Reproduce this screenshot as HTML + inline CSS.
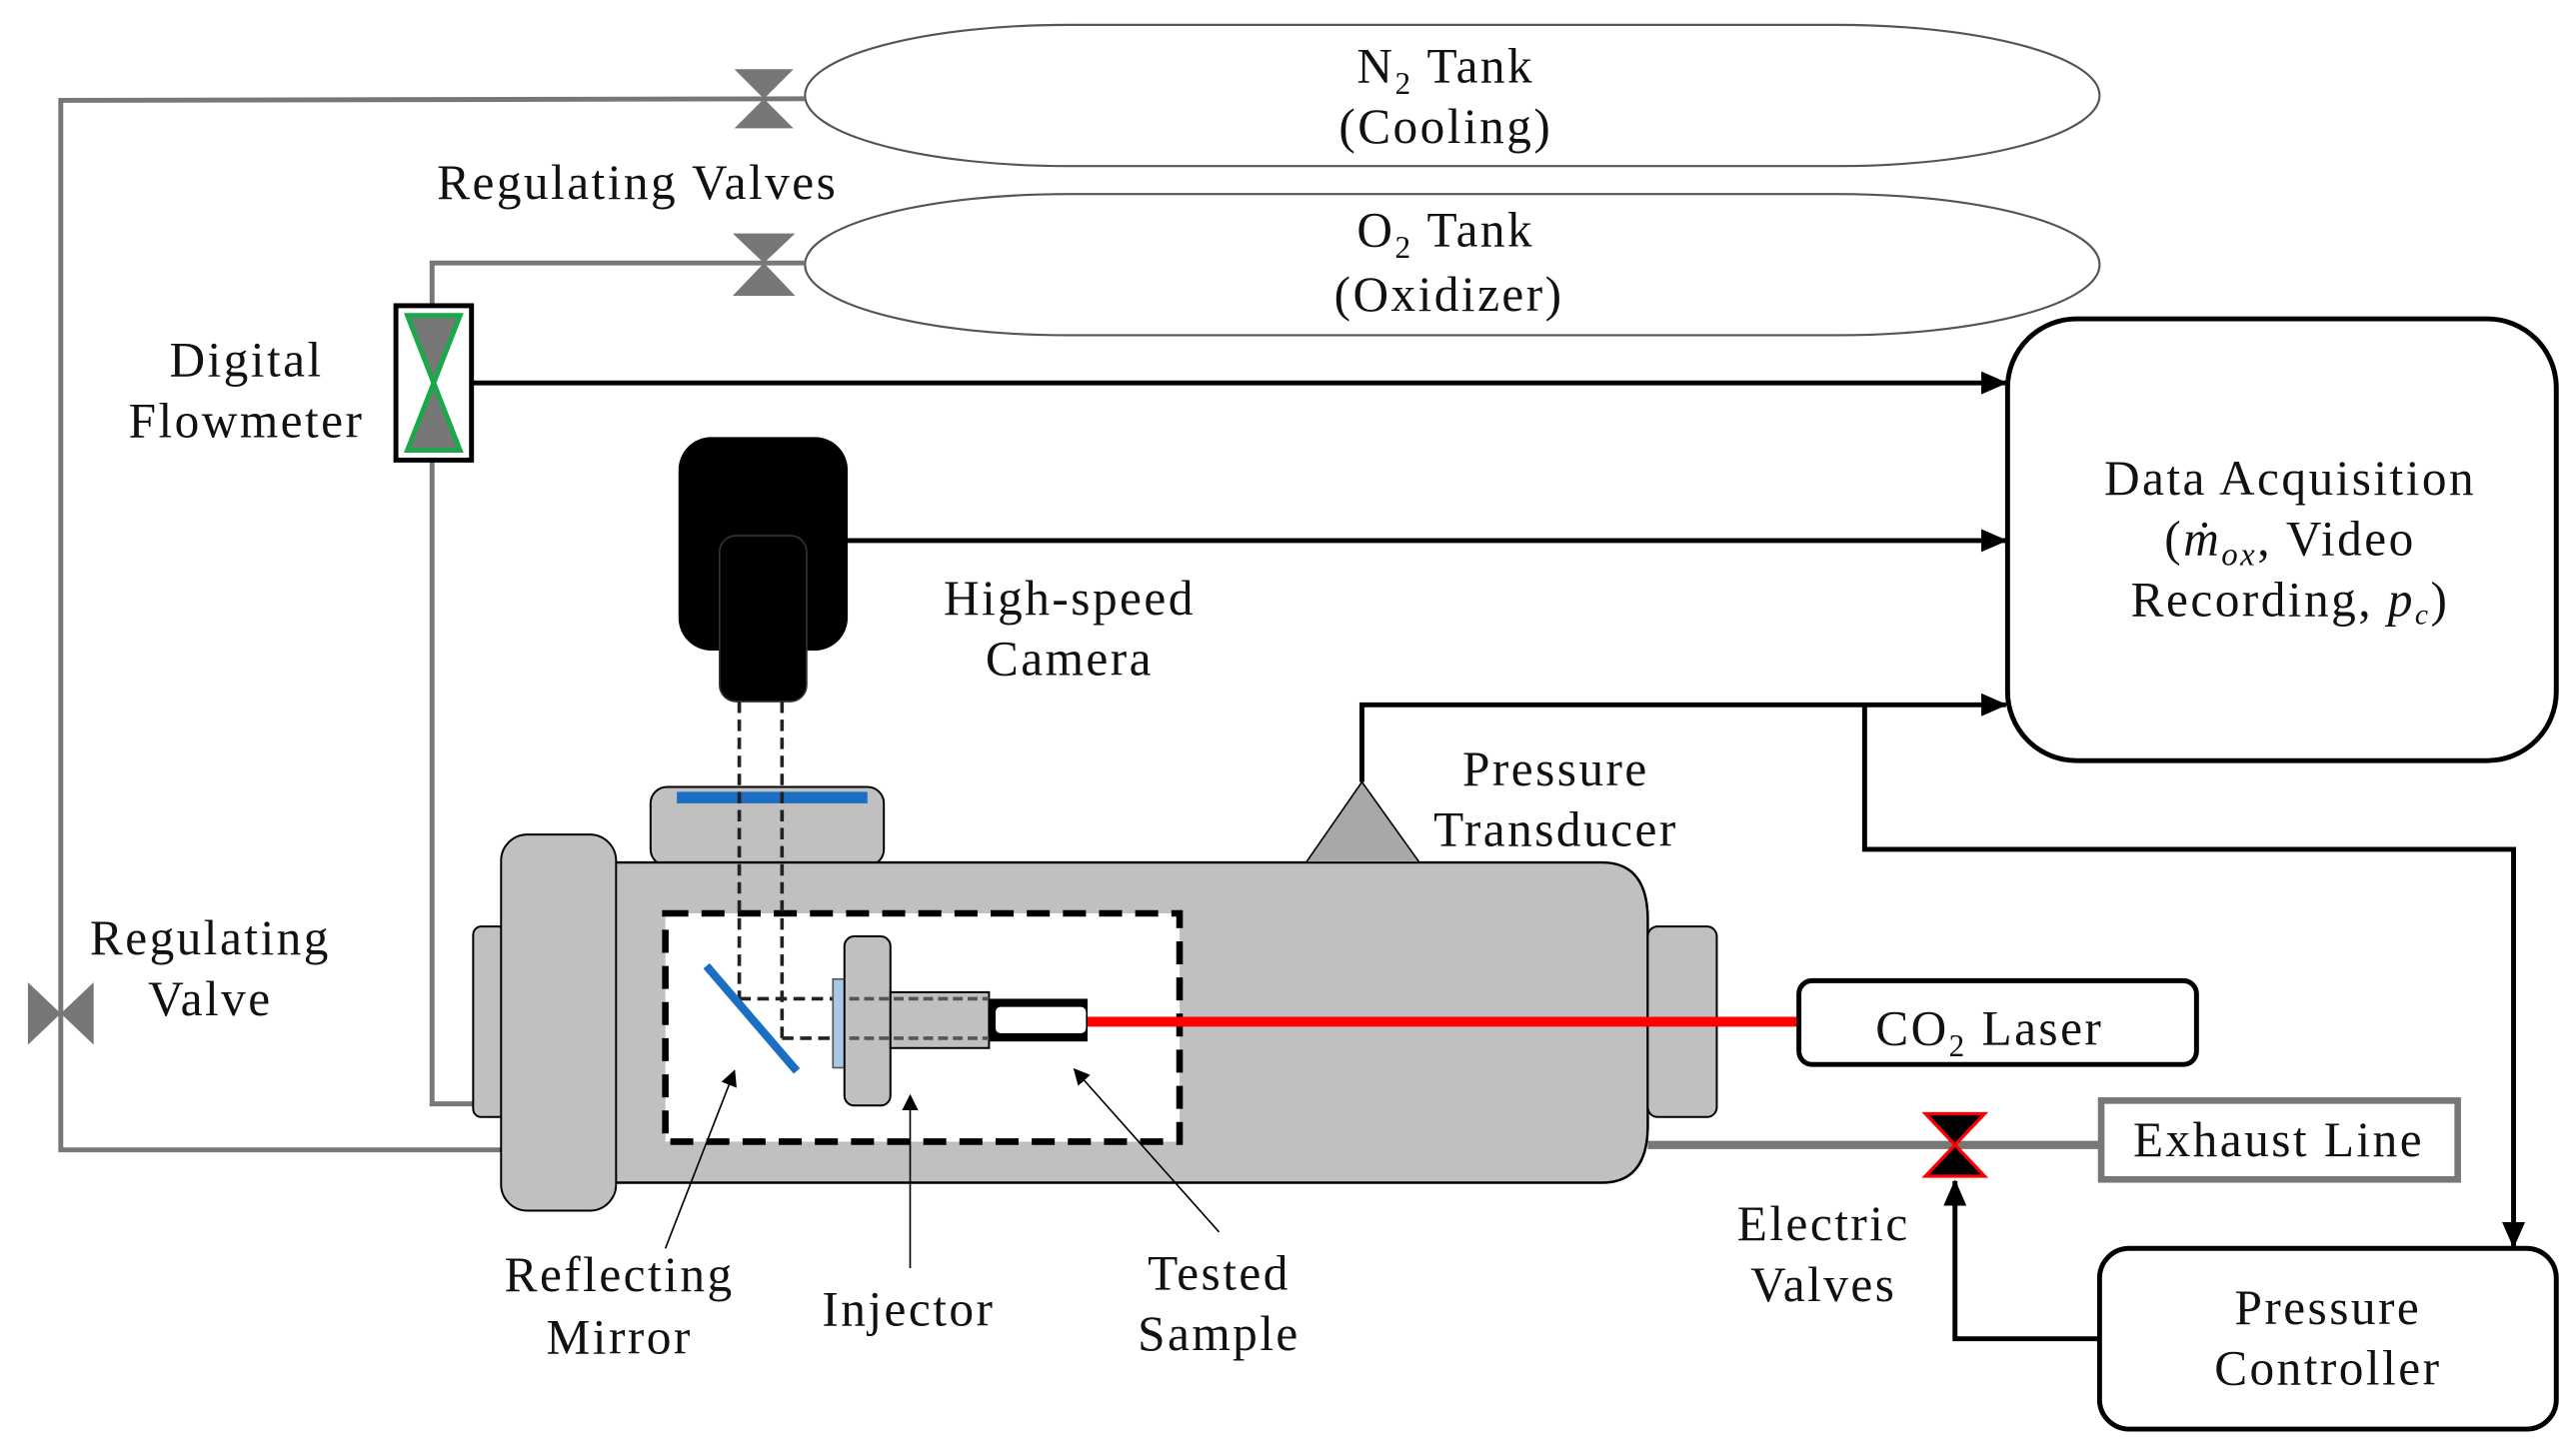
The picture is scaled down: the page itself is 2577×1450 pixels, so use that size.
<!DOCTYPE html>
<html><head><meta charset="utf-8"><style>
html,body{margin:0;padding:0;background:#fff;}
svg{display:block;}
text{font-family:"Liberation Serif",serif;font-size:30px;letter-spacing:1.5px;fill:#111;text-anchor:middle;}
</style></head><body>
<svg width="2577" height="1450" viewBox="0 0 1568 882" xmlns="http://www.w3.org/2000/svg">
<defs>
<marker id="a" markerWidth="10" markerHeight="10" refX="9" refY="5" orient="auto" markerUnits="userSpaceOnUse" viewBox="0 0 10 10"><path d="M0,0 L10,5 L0,10z" fill="#000"/></marker>
<marker id="a2" markerWidth="16" markerHeight="14" refX="15" refY="7" orient="auto" markerUnits="userSpaceOnUse" viewBox="0 0 16 14"><path d="M0,0 L16,7 L0,14z" fill="#000"/></marker>
</defs>
<rect x="490" y="15" width="788" height="86" rx="160" ry="43" fill="none" stroke="#555" stroke-width="1.3"/>
<rect x="490" y="118" width="788" height="86" rx="160" ry="43" fill="none" stroke="#555" stroke-width="1.3"/>
<text x="880" y="50">N<tspan font-size="19" dy="7">2</tspan><tspan dy="-7"> Tank</tspan></text>
<text x="880" y="87">(Cooling)</text>
<text x="880" y="150">O<tspan font-size="19" dy="7">2</tspan><tspan dy="-7"> Tank</tspan></text>
<text x="882" y="189">(Oxidizer)</text>
<text x="388" y="121">Regulating Valves</text>
<g stroke="#777" stroke-width="3" fill="none">
<polyline points="490,60 37,61 37,700 305,700"/>
<polyline points="490,160 263,160 263,186"/>
<polyline points="263,280 263,672 290,672"/>
</g>
<g fill="#777">
<path d="M447,42 L483,42 L465,60 L483,78 L447,78 L465,60z"/>
<path d="M446,142 L484,142 L465,160 L484,180 L446,180 L465,160z"/>
<path d="M17,598 L17,636 L37,617 L57,636 L57,598 L37,617z"/>
</g>
<rect x="241" y="186" width="46" height="94" fill="#fff" stroke="#000" stroke-width="3"/>
<path d="M248,192 L280,192 L264,233 L280,274 L248,274 L264,233z" fill="#777" stroke="#1aa84a" stroke-width="3"/>
<text x="150" y="229">Digital</text>
<text x="150" y="266">Flowmeter</text>
<rect x="1222" y="194" width="334" height="269" rx="42" fill="#fff" stroke="#000" stroke-width="3"/>
<text x="1394" y="301">Data Acquisition</text>
<text x="1394" y="338">(<tspan font-style="italic">ṁ</tspan><tspan font-style="italic" font-size="20" dy="6">ox</tspan><tspan dy="-6">, Video</tspan></text>
<text x="1394" y="375">Recording, <tspan font-style="italic">p</tspan><tspan font-style="italic" font-size="18" dy="5">c</tspan><tspan dy="-5">)</tspan></text>
<g stroke="#000" stroke-width="3" fill="none">
<line x1="287" y1="233" x2="1221" y2="233" marker-end="url(#a2)"/>
<line x1="516" y1="329" x2="1221" y2="329" marker-end="url(#a2)"/>
<polyline points="829,476 829,429 1221,429" marker-end="url(#a2)"/>
<polyline points="1135,429 1135,517 1530,517 1530,759" marker-end="url(#a2)"/>
<polyline points="1278,815 1190,815 1190,719" marker-end="url(#a2)"/>
</g>
<rect x="413" y="266" width="103" height="130" rx="20" fill="#000"/>
<rect x="438" y="326" width="53" height="101" rx="10" fill="#000" stroke="#333" stroke-width="1"/>
<text x="651" y="374">High-speed</text>
<text x="651" y="411">Camera</text>
<rect x="396" y="479" width="142" height="48" rx="10" fill="#c0c0c0" stroke="#000" stroke-width="1.2"/>
<rect x="412" y="482" width="116" height="7" fill="#1b6ec2"/>
<rect x="288" y="564" width="20" height="116" rx="5" fill="#c0c0c0" stroke="#000" stroke-width="1.2"/>
<path d="M330,525 L975,525 Q1003,525 1003,560 L1003,685 Q1003,720 975,720 L330,720z" fill="#c0c0c0" stroke="#000" stroke-width="1.5"/>
<rect x="1003" y="564" width="42" height="116" rx="6" fill="#c0c0c0" stroke="#000" stroke-width="1.2"/>
<rect x="305" y="508" width="70" height="229" rx="16" fill="#c0c0c0" stroke="#000" stroke-width="1.2"/>
<path d="M795,525 L829,476 L864,525z" fill="#a8a8a8" stroke="#000" stroke-width="1"/>
<text x="947" y="478">Pressure</text>
<text x="947" y="515">Transducer</text>
<rect x="405" y="556" width="313" height="139" fill="#fff" stroke="#000" stroke-width="4" stroke-dasharray="14,8"/>
<g stroke="#222" stroke-width="2.2" stroke-dasharray="7,4" fill="none">
<line x1="450" y1="427" x2="450" y2="608"/>
<line x1="476" y1="427" x2="476" y2="632"/>
<line x1="450" y1="608" x2="602" y2="608"/>
<line x1="476" y1="632" x2="602" y2="632"/>
</g>
<rect x="507" y="596" width="9" height="54" fill="#a8c8e8" stroke="#555" stroke-width="1"/>
<rect x="514" y="570" width="28" height="103" rx="6" fill="#c0c0c0" stroke="#000" stroke-width="1.2"/>
<rect x="542" y="604" width="60" height="34" fill="#c0c0c0" stroke="#000" stroke-width="1.2"/>
<rect x="602" y="608" width="60" height="26" fill="#000"/>
<rect x="606" y="613" width="55" height="16" rx="3" fill="#fff"/>
<g stroke="#555" stroke-width="2.2" stroke-dasharray="6,3"><line x1="517" y1="608" x2="602" y2="608"/><line x1="517" y1="632" x2="602" y2="632"/></g>
<line x1="430" y1="588" x2="485" y2="652" stroke="#1b6ec2" stroke-width="5"/>
<line x1="662" y1="622" x2="1095" y2="622" stroke="#f00" stroke-width="6"/>
<rect x="1095" y="597" width="242" height="51" rx="8" fill="#fff" stroke="#000" stroke-width="3"/>
<text x="1211" y="636">CO<tspan font-size="19" dy="7">2</tspan><tspan dy="-7"> Laser</tspan></text>
<line x1="1003" y1="697" x2="1280" y2="697" stroke="#777" stroke-width="5"/>
<rect x="1279" y="670" width="217" height="48" fill="#fff" stroke="#777" stroke-width="4"/>
<text x="1387" y="704">Exhaust Line</text>
<path d="M1172,678 L1208,678 L1190,697 L1208,716 L1172,716 L1190,697z" fill="#000" stroke="#f00" stroke-width="2"/>
<text x="1110" y="755">Electric</text>
<text x="1110" y="792">Valves</text>
<rect x="1278" y="760" width="278" height="110" rx="18" fill="#fff" stroke="#000" stroke-width="3"/>
<text x="1417" y="806">Pressure</text>
<text x="1417" y="843">Controller</text>
<g stroke="#000" stroke-width="1" fill="none">
<line x1="405" y1="760" x2="447" y2="652" marker-end="url(#a)"/>
<line x1="554" y1="772" x2="554" y2="667" marker-end="url(#a)"/>
<line x1="742" y1="750" x2="654" y2="651" marker-end="url(#a)"/>
</g>
<text x="377" y="786">Reflecting</text>
<text x="377" y="824">Mirror</text>
<text x="553" y="807">Injector</text>
<text x="742" y="785">Tested</text>
<text x="742" y="822">Sample</text>
<text x="128" y="581">Regulating</text>
<text x="128" y="618">Valve</text>
</svg>
</body></html>
